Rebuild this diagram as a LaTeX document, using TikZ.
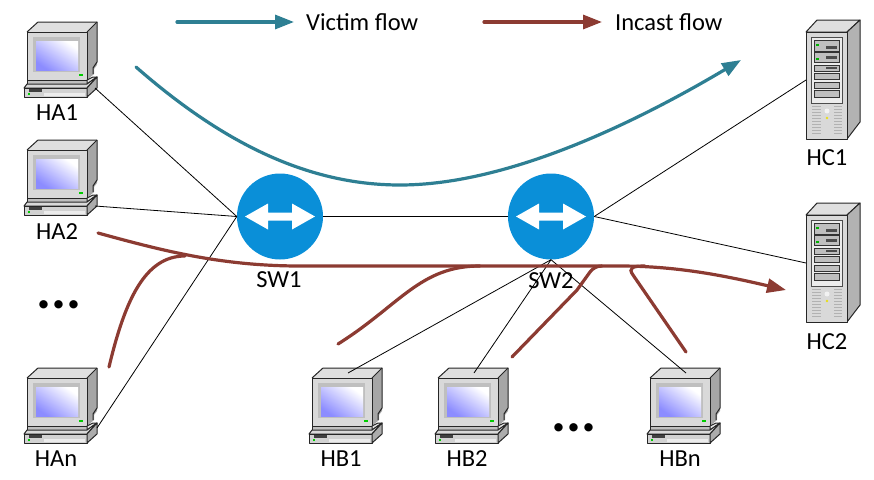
\documentclass[tikz,border=0pt]{standalone}
\usepackage{fontspec}
\setmainfont{Carlito}
\usetikzlibrary{arrows.meta,positioning}
\definecolor{victim}{HTML}{2E7F93}
\definecolor{incast}{HTML}{8C3B32}
\definecolor{swblue}{HTML}{0A8FD8}
\tikzset{
 link/.style={draw=black, line width=0.8pt},
 victimflow/.style={draw=victim, line width=3.2pt, line cap=round},
 incastflow/.style={draw=incast, line width=3.2pt, line cap=round},
 flowtip/.style={-{Triangle[length=19pt,width=14pt]}},
 hostlabel/.style={font=\fontsize{24.5}{24.5}\selectfont, inner sep=0pt, text=black},
 dotlabel/.style={font=\fontsize{56}{56}\selectfont\bfseries, inner sep=0pt, anchor=base, text=black},
 switchnode/.style={circle, fill=swblue, minimum size=86pt, inner sep=0pt},
 hull/.style={draw=black!85, line width=1pt, line join=round},
 pc/.pic={
  \fill[gray!70] (63,10) -- (73,0) -- (73,43) -- (70,47) -- (70,52) -- (63,58) -- cycle;
  \fill[gray!25] (3,10) -- (14,0) -- (73,0) -- (63,10) -- cycle;
  \draw[hull] (3,10) -- (14,0) -- (73,0) -- (73,40) -- (69,46) -- (69,52);
  \draw[hull] (63,10) -- (73,0);
  \fill[gray!30, hull] (3,10) rectangle (63,58);
  \fill[gray!50] (9,15) rectangle (56,50);
  \shade[left color=white, right color=blue!45, shading angle=-35] (12,19) rectangle (54,48);
  \fill[green!80!black] (55,52) rectangle (59,54);
  \fill[gray!50, hull] (3,58) rectangle (63,62);
  \fill[gray!20, hull] (63,58) -- (69,55) -- (73,55) -- (63,62) -- cycle;
  \fill[gray!30, hull] (3,62) -- (0,66) -- (63,66) -- (73,55) -- (63,62) -- cycle;
  \fill[gray!35, hull] (0,66) rectangle (63,75);
  \fill[gray!65, hull] (63,66) -- (73,55) -- (73,66) -- (63,75) -- cycle;
  \fill[black!75] (5,67) rectangle (18,70);
  \fill[gray!15] (20,71) rectangle (61,74);
  \fill[green!80!black] (4,71) rectangle (6,73);
  \coordinate (-port) at (71,66);
  \coordinate (-portb) at (73,60);
  \coordinate (-top) at (39,5);
 },
 server/.pic={
  \fill[gray!25, hull] (0,12) -- (11,0) -- (54,0) -- (41,12) -- cycle;
  \fill[gray!60, hull] (41,12) -- (54,0) -- (54,102) -- (41,119) -- cycle;
  \fill[gray!30, hull] (0,12) rectangle (41,119);
  \fill[gray!15, draw=black!70, line width=0.7pt] (5,17) rectangle (36,83);
  \foreach \ya/\yb in {20/31,32/42,45/51,53/59,62/68,70/77}
   \draw[black!80, fill=gray!50, line width=0.8pt] (8,\ya) rectangle (33,\yb);
  \fill[black!70] (20,26) rectangle (31,29);
  \fill[black!70] (20,36) rectangle (31,39);
  \fill[black!70] (20,47) rectangle (31,49);
  \fill[green!70!black] (10,24) rectangle (13,26);
  \fill[green!70!black] (10,38) rectangle (13,40);
  \foreach \yy in {86,89,...,113} {
   \draw[gray!60, line width=0.8pt] (6,\yy) -- (15,\yy);
   \draw[gray!60, line width=0.8pt] (28,\yy) -- (36,\yy);
  }
  \fill[gray!10] (21,91) circle (2.5);
  \fill[yellow!90!black] (21,98) circle (1.3);
  \coordinate (-port) at (0,60);
 },
}
\begin{document}
\begin{tikzpicture}[x=1pt, y=-1pt]
 \useasboundingbox (0,0) rectangle (874,479);
 \pic (ha1) at (24,22) {pc};
 \pic (ha2) at (24,140) {pc};
 \pic (han) at (24,368) {pc};
 \pic (hb1) at (309,368) {pc};
 \pic (hb2) at (435,368) {pc};
 \pic (hbn) at (647,368) {pc};
 \pic (hc1) at (806,20) {server};
 \pic (hc2) at (806,203) {server};
 \node[switchnode] (sw1) at (280,216.5) {};
 \node[switchnode] (sw2) at (551,216.5) {};
 \foreach \sw in {sw1,sw2}
  \fill[white] ([shift={(-35,0)}]\sw.center) -- ++(23,-13) -- ++(0,9) -- ++(24,0) -- ++(0,-9) -- ++(23,13) -- ++(-23,13) -- ++(0,-9) -- ++(-24,0) -- ++(0,9) -- cycle;
 % links
 \draw[link] (ha1-port) -- (sw1.west);
 \draw[link] (ha2-port) -- (sw1.west);
 \draw[link] (han-portb) -- (sw1.west);
 \draw[link] (sw1.east) -- (sw2.west);
 \draw[link] (sw2.east) -- (hc1-port);
 \draw[link] (sw2.east) -- (hc2-port);
 \draw[link] (sw2.south) -- (hb1-top);
 \draw[link] (sw2.south) -- (hb2-top);
 \draw[link] (sw2.south) -- (hbn-top);
 % flows
 \coordinate (v1) at (136,67);
 \coordinate (v2) at (400,185);
 \coordinate (v3) at (741,60);
 \draw[victimflow, flowtip] (v1) .. controls (225,145) and (310,185) .. (v2) .. controls (510,185) and (640,120) .. (v3);
 \coordinate (i1) at (98,233);
 \coordinate (i2) at (300,266);
 \coordinate (i3) at (620,266);
 \coordinate (i4) at (786,290);
 \draw[incastflow, flowtip] (i1) .. controls (160,250) and (220,266) .. (i2) -- (i3) .. controls (680,266) and (730,277) .. (i4);
 \coordinate (a1) at (109,367);
 \coordinate (a2) at (185,256);
 \draw[incastflow] (a1) .. controls (125,300) and (145,256) .. (a2);
 \coordinate (b1) at (338,344);
 \coordinate (b2) at (480,266);
 \draw[incastflow] (b1) .. controls (400,305) and (420,266) .. (b2);
 \coordinate (c1) at (512,357);
 \coordinate (c2) at (602,266);
 \draw[incastflow] (c1) -- (577,290) -- (590,272) .. controls (593,268) and (597,266) .. (c2);
 \coordinate (d1) at (686,352);
 \coordinate (d2) at (645,266);
 \draw[incastflow] (d1) -- (633,275) .. controls (628,268) and (632,266) .. (d2);
 % legend
 \coordinate (lv1) at (177,22);
 \coordinate (lv2) at (294,22);
 \coordinate (li1) at (484,22);
 \coordinate (li2) at (602,22);
 \draw[victimflow, flowtip] (lv1) -- (lv2);
 \draw[incastflow, flowtip] (li1) -- (li2);
 \node[hostlabel, anchor=west] (lvt) at (306,22) {Victim flow};
 \node[hostlabel, anchor=west] (lit) at (615,22) {Incast flow};
 % labels
 \node[hostlabel] (tha1) at (57,113) {HA1};
 \node[hostlabel] (tha2) at (57,232) {HA2};
 \node[hostlabel] (than) at (56,459) {HAn};
 \node[hostlabel] (tsw1) at (279,280) {SW1};
 \node[hostlabel] (tsw2) at (551,281) {SW2};
 \node[hostlabel] (thb1) at (341,459) {HB1};
 \node[hostlabel] (thb2) at (467,459) {HB2};
 \node[hostlabel] (thbn) at (680,459) {HBn};
 \node[hostlabel] (thc1) at (827,158) {HC1};
 \node[hostlabel] (thc2) at (827,342) {HC2};
 \node[dotlabel] (dotsa) at (59,308) {...};
 \node[dotlabel] (dotsb) at (574,431) {...};
\end{tikzpicture}
\end{document}
